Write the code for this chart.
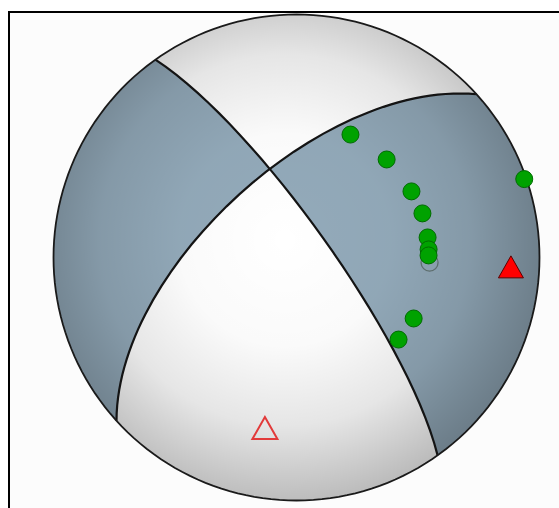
<!DOCTYPE html>
<html>
<head>
<meta charset="utf-8">
<script src="https://cdn.jsdelivr.net/npm/d3@7"></script>
<style>
  body { margin: 0; background: #fff; }
</style>
</head>
<body>
<div id="chart"></div>
<script>
const WIDTH = 559
const HEIGHT = 508

// nodal planes, strike / dip in degrees (right-hand rule)
const planeStrikes = [324.5, 227.8]
const planeDips = [79, 61.3]

// first-motion stations: azimuth and takeoff angle from the downward vertical
const stationAzimuths = [23.7, 42.6, 60.1, 70.7, 92.2, 81.3, 86.5, 89.1, 117.5, 128.8, 71.0]
const stationTakeoffs = [46.0, 45.6, 45.4, 45.7, 45.6, 45.4, 45.3, 45.2, 45.2, 44.8, 89.0]
const stationPolarities = ['c', 'c', 'c', 'c', 'd', 'c', 'c', 'c', 'c', 'c', 'c']

// pressure / tension axes: azimuth and plunge
const axisNames = ['P', 'T']
const axisAzimuths = [190.5, 92.5]
const axisPlunges = [29.4, 12.7]

const rad = Math.PI / 180

// unit vector in (north, east, down)
const vec = (az, plunge) => [
  Math.cos(plunge * rad) * Math.cos(az * rad),
  Math.cos(plunge * rad) * Math.sin(az * rad),
  Math.sin(plunge * rad)
]
const neg = (v) => v.map(c => -c)
const dot = (a, b) => a[0] * b[0] + a[1] * b[1] + a[2] * b[2]
const cross = (a, b) => [
  a[1] * b[2] - a[2] * b[1],
  a[2] * b[0] - a[0] * b[2],
  a[0] * b[1] - a[1] * b[0]
]
const unit = (v) => {
  const l = Math.sqrt(dot(v, v))
  return v.map(c => c / l)
}
// down maps to the projection centre, east to the right, north up
const lonLat = ([n, e, d]) => [
  Math.atan2(e, d) / rad,
  Math.asin(Math.max(-1, Math.min(1, n))) / rad
]

const cx = 296.5
const cy = 257.5
const R = 243

const projection = d3
  .geoAzimuthalEqualArea()
  .rotate([0, 0])
  .scale(R / Math.SQRT2)
  .translate([cx, cy])
  .clipAngle(90)
  .precision(0.1)

const path = d3.geoPath(projection)

const svg = d3
  .select('#chart')
  .append('svg')
    .attr('width', WIDTH)
    .attr('height', HEIGHT)

const defs = svg.append('defs')
const shade = defs
  .append('radialGradient')
    .attr('id', 'shade')
    .attr('gradientUnits', 'userSpaceOnUse')
    .attr('cx', 285)
    .attr('cy', 240)
    .attr('r', 265)
shade.selectAll('stop')
  .data([[0, 0], [0.4, 0.02], [0.7, 0.1], [1, 0.27]])
  .join('stop')
    .attr('offset', d => d[0])
    .attr('stop-color', '#000')
    .attr('stop-opacity', d => d[1])

svg.append('rect')
  .attr('x', 9)
  .attr('y', 12)
  .attr('width', 600)
  .attr('height', 600)
  .attr('fill', '#fcfcfc')
  .attr('stroke', '#000')
  .attr('stroke-width', 2)

// planes as vectors
const planes = planeStrikes.map((s, i) => ({
  strike: vec(s, 0),
  dipVec: vec(s + 90, planeDips[i]),
  normal: vec(s - 90, 90 - planeDips[i])
}))

const nA = planes[0].normal
const nB = planes[1].normal
const bAxis = unit(cross(nA, nB))
const inA = unit(cross(bAxis, nA))
const inB = unit(cross(bAxis, nB))
const tVec = vec(axisAzimuths[1], axisPlunges[1])
const sA = Math.sign(dot(inA, tVec))
const sB = Math.sign(dot(inB, tVec))

const lune = (ka, kb) => {
  let ring = [bAxis, inA.map(c => c * ka), neg(bAxis), inB.map(c => c * kb), bAxis].map(lonLat)
  let poly = { type: 'Polygon', coordinates: [ring] }
  if (d3.geoArea(poly) > 2 * Math.PI) {
    poly = { type: 'Polygon', coordinates: [ring.slice().reverse()] }
  }
  return poly
}

const tensionLunes = [lune(sA, sB), lune(-sA, -sB)]

svg.append('path')
  .datum({ type: 'Sphere' })
  .attr('d', path)
  .attr('fill', '#ffffff')

svg.append('g')
  .selectAll('path')
  .data(tensionLunes)
  .join('path')
    .attr('d', path)
    .attr('fill', '#93aaba')

svg.append('path')
  .datum({ type: 'Sphere' })
  .attr('d', path)
  .attr('fill', 'url(#shade)')

svg.append('g')
  .selectAll('path')
  .data(planes)
  .join('path')
    .attr('d', p => path({
      type: 'LineString',
      coordinates: [neg(p.dipVec), p.strike, p.dipVec, neg(p.strike), neg(p.dipVec)].map(lonLat)
    }))
    .attr('fill', 'none')
    .attr('stroke', '#141414')
    .attr('stroke-width', 2.2)

svg.append('path')
  .datum({ type: 'Sphere' })
  .attr('d', path)
  .attr('fill', 'none')
  .attr('stroke', '#1a1a1a')
  .attr('stroke-width', 1.8)

const stations = stationAzimuths.map((az, i) => ({
  pos: projection(lonLat(vec(az, 90 - stationTakeoffs[i]))),
  polarity: stationPolarities[i]
}))

svg.append('g')
  .selectAll('circle')
  .data(stations)
  .join('circle')
    .attr('cx', d => d.pos[0])
    .attr('cy', d => d.pos[1])
    .attr('r', 8.5)
    .attr('fill', d => d.polarity === 'c' ? '#00a200' : 'none')
    .attr('stroke', d => d.polarity === 'c' ? '#006a00' : '#384538')
    .attr('stroke-opacity', d => d.polarity === 'c' ? 1 : 0.55)
    .attr('stroke-width', d => d.polarity === 'c' ? 1 : 1.3)

const triangle = {
  draw(context, size) {
    const w = Math.sqrt(size)
    context.moveTo(0, -w * 0.44)
    context.lineTo(w / 2, w * 0.44)
    context.lineTo(-w / 2, w * 0.44)
    context.closePath()
  }
}

svg.append('g')
  .selectAll('path')
  .data(axisNames.map((name, i) => ({
    name,
    pos: projection(lonLat(vec(axisAzimuths[i], axisPlunges[i])))
  })))
  .join('path')
    .attr('d', d3.symbol().type(triangle).size(625))
    .attr('transform', d => `translate(${d.pos[0]},${d.pos[1]})`)
    .attr('fill', d => d.name === 'T' ? '#ff0000' : 'none')
    .attr('stroke', d => d.name === 'T' ? '#5a0000' : '#e23a3a')
    .attr('stroke-width', d => d.name === 'T' ? 1 : 2)
</script>
</body>
</html>
